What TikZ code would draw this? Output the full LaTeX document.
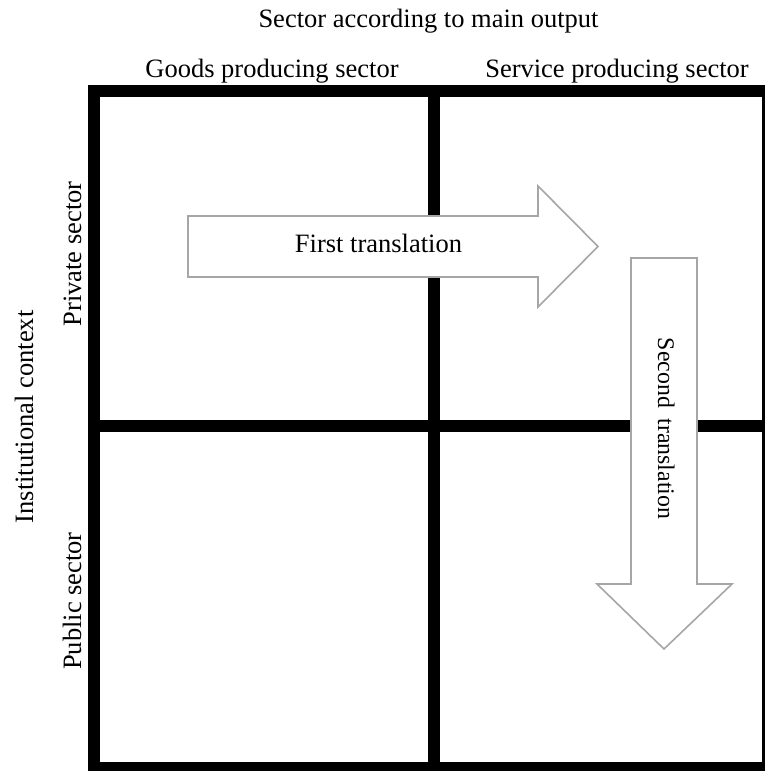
\documentclass[tikz,border=0pt]{standalone}
\usepackage{fontspec}
\setmainfont{Liberation Serif}
\usepackage{tikz}
\usetikzlibrary{positioning}
\definecolor{arrowgray}{HTML}{A6A6A6}

\begin{document}
\begin{tikzpicture}[x=0.5pt, y=-0.5pt,
    gridline/.style={line width=6pt, line join=miter},
    bigarrow/.style={draw=arrowgray, fill=white, line width=0.8pt, line join=miter},
    lbl/.style={font=\fontsize{13.25}{16}\selectfont, inner sep=0pt, anchor=base}]
    \useasboundingbox (0,0) rectangle (765,771);
    \clip (0,0) rectangle (765,771);

    % Grid of the four sectors
    \draw[gridline] (94,90.5) rectangle (768,768);
    \draw[gridline] (434,90.5) -- (434,768);
    \draw[gridline] (94,426) -- (768,426);

    % Headings
    \node[lbl] (title) at (428.5,27.5) {Sector according to main output};
    \node[lbl] (goods) at (272,77) {Goods producing sector};
    \node[lbl] (service) at (617,77) {Service producing sector};
    \node[lbl, rotate=90] (context) at (33,417) {Institutional context};
    \node[lbl, rotate=90] (private) at (81,254) {Private sector};
    \node[lbl, rotate=90] (public) at (81,601) {Public sector};

    % Translation arrows
    \draw[bigarrow] (188,216) -- (538,216) -- (538,186) -- (598,246.5)
        -- (538,307) -- (538,277) -- (188,277) -- cycle;
    \node[lbl] (first) at (378.5,252) {First translation};

    \draw[bigarrow] (631,258) -- (697,258) -- (697,584) -- (732,584)
        -- (664,649) -- (597,584) -- (631,584) -- cycle;
    \node[lbl, rotate=-90, font=\fontsize{11.9}{14}\selectfont] (second) at (658,428.5)
        {Second\hspace{0.45em}translation};
\end{tikzpicture}
\end{document}
